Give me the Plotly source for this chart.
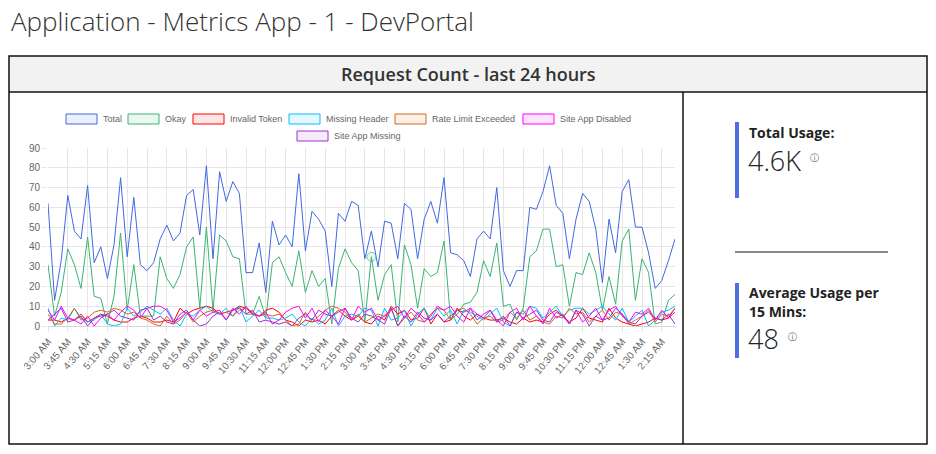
import pandas as pd
import plotly.graph_objects as go

# x categories: 15 minute buckets over the last 24 hours
times = list(pd.date_range("2021-01-01 03:00", periods=96, freq="15min").strftime("%-I:%M %p"))
tick_labels = [
    "3:00 AM", "3:45 AM", "4:30 AM", "5:15 AM", "6:00 AM", "6:45 AM", "7:30 AM", "8:15 AM",
    "9:00 AM", "9:45 AM", "10:30 AM", "11:15 AM", "12:00 PM", "12:45 PM", "1:30 PM", "2:15 PM",
    "3:00 PM", "3:45 PM", "4:30 PM", "5:15 PM", "6:00 PM", "6:45 PM", "7:30 PM", "8:15 PM",
    "9:00 PM", "9:45 PM", "10:30 PM", "11:15 PM", "12:00 AM", "12:45 AM", "1:30 AM", "2:15 AM",
]

total = [62, 13, 33, 66, 48, 44, 71, 32, 40, 24, 41, 75,
         35, 65, 31, 28, 32, 44, 51, 43, 47, 66, 69, 46,
         81, 34, 78, 63, 73, 67, 27, 27, 42, 17, 53, 41,
         46, 40, 77, 38, 58, 54, 48, 20, 57, 53, 63, 61,
         34, 48, 30, 53, 52, 34, 62, 59, 34, 54, 63, 52,
         75, 37, 36, 33, 25, 44, 48, 44, 70, 28, 20, 28,
         28, 60, 59, 68, 81, 61, 57, 34, 54, 67, 63, 49,
         22, 54, 37, 68, 74, 50, 50, 37, 19, 23, 33, 44]
okay = [31, 5, 17, 39, 31, 19, 45, 15, 14, 1, 15, 47,
        8, 31, 5, 5, 5, 35, 24, 19, 26, 40, 45, 9,
        50, 8, 46, 43, 35, 34, 6, 6, 15, 4, 32, 35,
        27, 20, 38, 17, 28, 20, 24, 1, 29, 39, 32, 28,
        2, 35, 13, 26, 31, 2, 41, 31, 9, 29, 25, 27,
        43, 3, 6, 11, 12, 17, 33, 25, 42, 10, 11, 3,
        9, 35, 38, 49, 49, 30, 31, 10, 27, 26, 37, 27,
        8, 25, 11, 43, 49, 13, 34, 27, 1, 2, 13, 16]
invalid_token = [3, 3, 2, 4, 3, 6, 2, 4, 6, 5, 3, 2,
                 2, 4, 5, 4, 2, 2, 3, 2, 9, 6, 8, 9,
                 10, 9, 6, 7, 8, 10, 9, 6, 5, 8, 9, 7,
                 3, 2, 0, 3, 2, 3, 1, 5, 8, 5, 3, 5,
                 2, 1, 5, 3, 10, 6, 8, 3, 4, 9, 1, 6,
                 2, 3, 9, 5, 3, 6, 4, 3, 3, 4, 2, 1,
                 4, 2, 3, 2, 6, 8, 5, 2, 4, 9, 4, 3,
                 2, 9, 4, 2, 1, 0, 1, 2, 4, 3, 4, 9]
missing_header = [9, 0, 4, 3, 9, 4, 2, 3, 6, 1, 0, 1,
                  9, 5, 7, 10, 8, 6, 9, 3, 0, 6, 5, 8,
                  10, 7, 6, 9, 5, 10, 2, 5, 8, 4, 4, 3,
                  4, 6, 2, 0, 4, 1, 3, 9, 0, 5, 6, 5,
                  9, 8, 0, 9, 3, 4, 8, 0, 6, 9, 3, 9,
                  5, 8, 1, 8, 7, 5, 3, 6, 9, 2, 0, 7,
                  6, 10, 9, 4, 7, 10, 5, 8, 9, 9, 6, 8,
                  10, 6, 3, 9, 2, 5, 8, 0, 3, 7, 8, 10]
rate_limit = [6, 1, 1, 4, 9, 3, 4, 7, 8, 7, 9, 8,
              6, 7, 4, 3, 1, 0, 5, 1, 3, 7, 2, 5,
              7, 8, 6, 7, 5, 8, 9, 7, 5, 6, 5, 6,
              3, 0, 1, 7, 2, 5, 8, 10, 9, 7, 3, 6,
              2, 4, 6, 5, 9, 0, 4, 7, 3, 2, 6, 9,
              8, 3, 8, 9, 6, 1, 4, 5, 2, 3, 7, 4,
              8, 3, 5, 2, 1, 5, 4, 9, 6, 7, 2, 5,
              8, 3, 7, 6, 1, 3, 5, 8, 2, 6, 5, 9]
site_app_disabled = [8, 3, 10, 4, 3, 1, 5, 0, 4, 6, 3, 7,
                     10, 8, 4, 9, 10, 10, 8, 2, 4, 7, 3, 8,
                     5, 7, 8, 3, 9, 6, 10, 6, 5, 7, 1, 3,
                     7, 9, 10, 4, 9, 2, 8, 5, 1, 9, 3, 10,
                     7, 9, 3, 5, 8, 10, 4, 9, 6, 2, 5, 10,
                     8, 10, 5, 2, 9, 6, 4, 8, 3, 0, 7, 9,
                     3, 10, 5, 1, 9, 4, 6, 1, 8, 2, 5, 9,
                     3, 8, 10, 5, 2, 7, 6, 9, 3, 8, 4, 7]
site_app_missing = [3, 6, 9, 2, 3, 5, 0, 4, 5, 6, 8, 5,
                    4, 3, 8, 9, 3, 5, 2, 1, 6, 8, 3, 0,
                    1, 5, 7, 3, 8, 9, 6, 8, 2, 3, 2, 1,
                    2, 0, 4, 6, 3, 8, 6, 5, 7, 9, 4, 2,
                    6, 5, 3, 1, 9, 0, 5, 2, 7, 4, 3, 6,
                    2, 5, 8, 7, 9, 3, 6, 8, 2, 5, 0, 7,
                    4, 6, 8, 3, 2, 7, 5, 1, 8, 6, 0, 5,
                    3, 4, 9, 6, 2, 1, 5, 7, 4, 3, 6, 1]

series_names = ["Total", "Okay", "Invalid Token", "Missing Header",
                "Rate Limit Exceeded", "Site App Disabled", "Site App Missing"]
series_values = [total, okay, invalid_token, missing_header,
                 rate_limit, site_app_disabled, site_app_missing]

total_usage = "4.6K"
avg_usage = "48"
hover_index = 49  # point highlighted on the Okay line

# colours (rgb) per series
rgb = [(65, 105, 225), (60, 179, 113), (255, 0, 0), (0, 191, 255),
       (210, 105, 30), (255, 0, 255), (153, 50, 204)]

# page geometry in pixels
W, H = 936, 454
PL, PR, PT, PB = 48, 675, 148, 326


def px(x):
    return (x - PL) / (PR - PL)


def py(y):
    return (PB - y) / (PB - PT)


fig = go.Figure()

for name, vals, c in zip(series_names, series_values, rgb):
    col = "rgb(%d,%d,%d)" % c
    trace = go.Scatter(x=times, y=vals, name=name, mode="lines",
                       line=dict(color=col, width=1), showlegend=False)
    if name == "Okay":
        trace.mode = "lines+markers"
        trace.marker = dict(size=[9 if i == hover_index else 0 for i in range(len(vals))],
                            color="rgba(%d,%d,%d,0.15)" % c,
                            line=dict(color=col, width=1))
    fig.add_trace(trace)

shapes = []
annotations = []

# panel frame
shapes.append(dict(type="rect", xref="paper", yref="paper", layer="below",
                   x0=px(9), x1=px(927), y0=py(92), y1=py(56),
                   fillcolor="#f2f2f2", line=dict(width=0)))
shapes.append(dict(type="rect", xref="paper", yref="paper",
                   x0=px(9), x1=px(927), y0=py(444), y1=py(56),
                   line=dict(color="#111", width=1.5)))
shapes.append(dict(type="line", xref="paper", yref="paper",
                   x0=px(9), x1=px(927), y0=py(92), y1=py(92),
                   line=dict(color="#111", width=1.5)))
shapes.append(dict(type="line", xref="paper", yref="paper",
                   x0=px(683), x1=px(683), y0=py(92), y1=py(444),
                   line=dict(color="#111", width=1.5)))

annotations.append(dict(text="Application - Metrics App - 1 - DevPortal", xref="paper", yref="paper",
                        x=px(9), y=py(21), xanchor="left", yanchor="middle", showarrow=False,
                        font=dict(family="Open Sans", size=26, color="#333", weight=300)))
annotations.append(dict(text="Request Count - last 24 hours", xref="paper", yref="paper",
                        x=px(468), y=py(74), xanchor="center", yanchor="middle", showarrow=False,
                        font=dict(family="Open Sans", size=18, color="#333", weight=600)))

# custom legend (box style)
legend_x = [66, 128, 193, 289, 395, 523, 297]
legend_y = [119, 119, 119, 119, 119, 119, 136]
for name, c, lx, ly in zip(series_names, rgb, legend_x, legend_y):
    shapes.append(dict(type="rect", xref="paper", yref="paper",
                       x0=px(lx), x1=px(lx + 31), y0=py(ly + 5), y1=py(ly - 5),
                       fillcolor="rgba(%d,%d,%d,0.1)" % c,
                       line=dict(color="rgb(%d,%d,%d)" % c, width=1)))
    annotations.append(dict(text=name, xref="paper", yref="paper",
                            x=px(lx + 35), y=py(ly), xanchor="left", yanchor="middle",
                            showarrow=False,
                            font=dict(family="Liberation Sans", size=9, color="#666")))

# side stats
blue = "#4B6EE0"
shapes.append(dict(type="rect", xref="paper", yref="paper",
                   x0=px(735), x1=px(739), y0=py(198), y1=py(122),
                   fillcolor=blue, line=dict(width=0)))
shapes.append(dict(type="rect", xref="paper", yref="paper",
                   x0=px(735), x1=px(739), y0=py(358), y1=py(283),
                   fillcolor=blue, line=dict(width=0)))
shapes.append(dict(type="line", xref="paper", yref="paper",
                   x0=px(735), x1=px(888), y0=py(252), y1=py(252),
                   line=dict(color="#111", width=1)))

side_text = [
    ("Total Usage:", 747, 132, 14, 700),
    (total_usage, 746, 160, 27, 300),
    ("Average Usage per", 747, 292, 14, 700),
    ("15 Mins:", 747, 311, 14, 700),
    (avg_usage, 746, 338, 27, 300),
]
for t, x, y, s, w in side_text:
    annotations.append(dict(text=t, xref="paper", yref="paper", x=px(x), y=py(y),
                            xanchor="left", yanchor="middle", showarrow=False,
                            font=dict(family="Open Sans", size=s, color="#222", weight=w)))
for x, y in [(814, 158), (792, 337)]:
    annotations.append(dict(text="ⓘ", xref="paper", yref="paper", x=px(x), y=py(y),
                            xanchor="center", yanchor="middle", showarrow=False,
                            font=dict(family="DejaVu Sans", size=9, color="#555")))

fig.update_layout(
    width=W, height=H,
    margin=dict(l=PL, r=W - PR, t=PT, b=H - PB, pad=0),
    paper_bgcolor="white", plot_bgcolor="white",
    showlegend=False,
    shapes=shapes,
    annotations=annotations,
    hovermode=False,
    xaxis=dict(type="category", range=[0, len(times) - 1],
               tickmode="array", tickvals=tick_labels, ticktext=tick_labels,
               tickangle=-50, showgrid=True, gridcolor="#e6e6e6", gridwidth=1,
               ticks="outside", ticklen=5, tickcolor="#e6e6e6",
               tickfont=dict(family="Liberation Sans", size=10, color="#666"),
               showline=False, zeroline=False),
    yaxis=dict(range=[0, 90], dtick=10, showgrid=True, gridcolor="#e6e6e6", gridwidth=1,
               ticks="outside", ticklen=5, tickcolor="#e6e6e6",
               tickfont=dict(family="Liberation Sans", size=10, color="#666"),
               zeroline=True, zerolinecolor="#d6d6d6", zerolinewidth=1, showline=False),
)

fig.write_html("out.html", config={"displayModeBar": False},
               post_script="document.body.style.margin='0';")
